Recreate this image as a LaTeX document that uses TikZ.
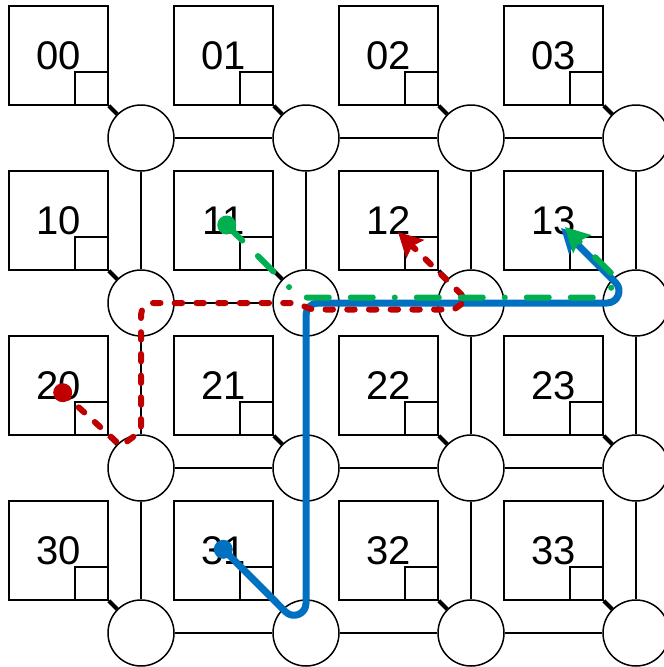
\documentclass[tikz,border=0pt]{standalone}
\usepackage{fontspec}
\setmainfont{Liberation Sans}
\usetikzlibrary{calc,arrows.meta}
\definecolor{rtred}{HTML}{C00000}
\definecolor{rtgreen}{HTML}{00B050}
\definecolor{rtblue}{HTML}{0070C0}
\begin{document}
\begin{tikzpicture}[x=1pt,y=-1pt,
  tile/.style={draw,line width=1.5pt,minimum size=99pt,inner sep=0pt,font=\fontsize{40}{48}\selectfont},
  port/.style={draw,line width=1.5pt,minimum size=33pt,inner sep=0pt,anchor=south east},
  router/.style={draw,circle,line width=1.5pt,minimum size=66pt,inner sep=0pt},
  link/.style={line width=1.5pt},
  nilink/.style={line width=4pt},
  startdot/.style={circle,inner sep=0pt,minimum size=19pt},
  tipstyle/.style={-{Stealth[length=24pt,width=25pt,inset=4pt]}},
  bluepath/.style={rtblue,line width=7pt,line cap=round,line join=round,tipstyle},
  redpath/.style={rtred,line width=6pt,line cap=round,line join=round,dash pattern=on 7.5pt off 14.2pt,tipstyle},
  greenpath/.style={rtgreen,line width=6pt,line cap=round,line join=round,
    dash pattern=on 22pt off 22pt on 22pt off 22pt on 0.01pt off 22pt,tipstyle}]
\useasboundingbox (0,0) rectangle (664,667);
% tiles, ports, routers
\foreach \r in {0,...,3} {
  \foreach \c in {0,...,3} {
    \node[tile] (t\r\c) at ({58.5+165*\c},{55.5+165*\r}) {\r\c};
    \node[port] (p\r\c) at (t\r\c.south east) {};
    \node[router] (r\r\c) at ({141+165*\c},{138+165*\r}) {};
    \draw[nilink] (p\r\c.south east) -- (r\r\c);
  }
}
% links
\foreach \r in {0,...,3} {
  \foreach \c/\d in {0/1,1/2,2/3} {
    \draw[link] (r\r\c) -- (r\r\d);
  }
}
\foreach \r/\s in {0/1,1/2,2/3} {
  \foreach \c in {0,...,3} {
    \draw[link] (r\r\c) -- (r\s\c);
  }
}
% blue route
\node[startdot,fill=rtblue] (bS) at (223.3,549.3) {};
\coordinate (bC1) at (306,632.3);
\coordinate (bC2) at (306,303);
\coordinate (bC3) at (636,303);
\coordinate (bE) at (561,228);
\draw[bluepath] (bS.center) -- ($(bC1)!29pt!(bS.center)$)
  .. controls ($(bC1)!18.3pt!(bS.center)$) and ($(bC1)!18.3pt!(bC2)$) .. ($(bC1)!29pt!(bC2)$)
  -- ($(bC2)!12pt!(bC1)$)
  .. controls ($(bC2)!5.4pt!(bC1)$) and ($(bC2)!5.4pt!(bC3)$) .. ($(bC2)!12pt!(bC3)$)
  -- ($(bC3)!29pt!(bC2)$)
  .. controls ($(bC3)!18.3pt!(bC2)$) and ($(bC3)!18.3pt!(bE)$) .. ($(bC3)!29pt!(bE)$)
  -- (bE);
% red route
\node[startdot,fill=rtred] (rS) at (62.7,392.7) {};
\coordinate (rV1) at (121,446);
\coordinate (rC1) at (141,431);
\coordinate (rC2) at (141,303);
\coordinate (rJ1) at (292,303);
\coordinate (rJ2) at (316,309.5);
\coordinate (rH) at (454,309.5);
\coordinate (rV2) at (467,300);
\coordinate (rE) at (398,232);
\draw[redpath] (rS.center) -- (rV1) -- (rC1) -- ($(rC2)!12pt!(rC1)$)
  .. controls ($(rC2)!5.4pt!(rC1)$) and ($(rC2)!5.4pt!(rJ1)$) .. ($(rC2)!12pt!(rJ1)$)
  -- (rJ1) .. controls ($(rJ1)+(10,0)$) and ($(rJ2)+(-10,0)$) .. (rJ2)
  -- (rH) -- (rV2) -- (rE);
% green route
\node[startdot,fill=rtgreen] (gS) at (226.7,225) {};
\coordinate (gC1) at (299.5,297.5);
\coordinate (gH) at (600,297.5);
\coordinate (gV) at (619,281);
\coordinate (gE) at (565,227);
\draw[greenpath] (gS.center) -- (gC1) -- (gH) -- (gV) -- (gE);
\end{tikzpicture}
\end{document}
